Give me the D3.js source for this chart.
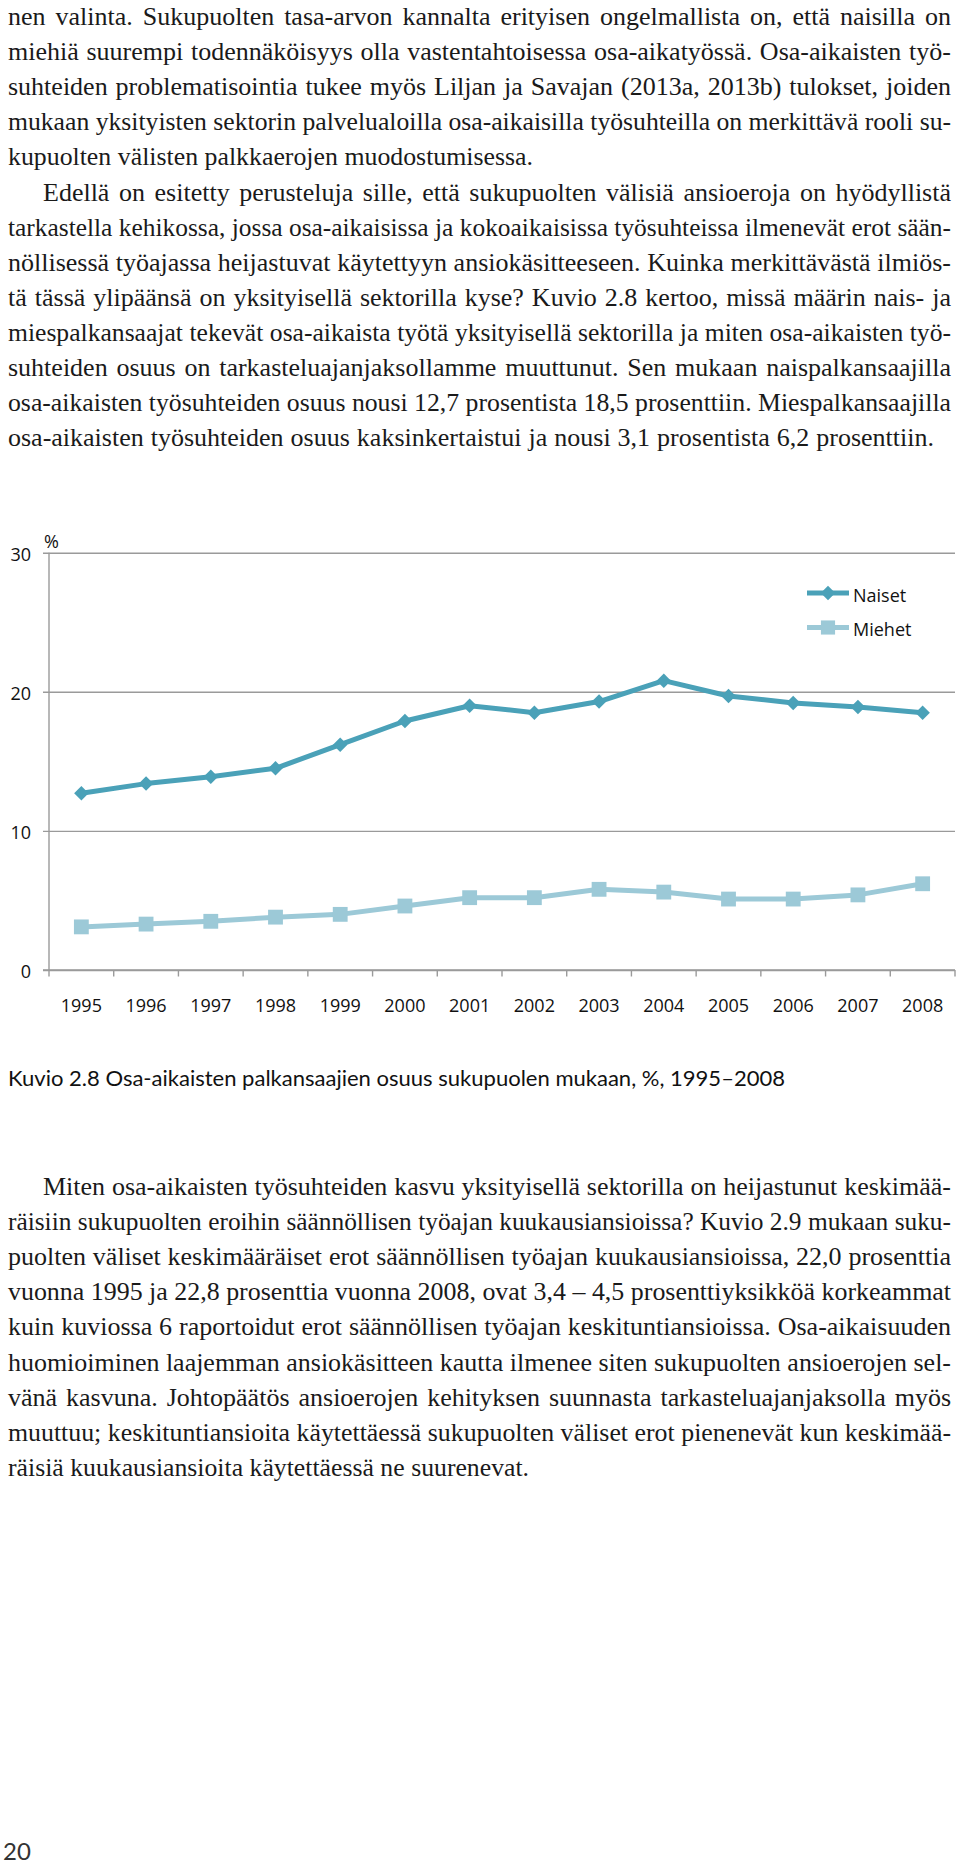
<!DOCTYPE html>
<html><head><meta charset="utf-8">
<script src="https://cdn.jsdelivr.net/npm/d3@7"></script>
<style>body{margin:0;background:#fff}svg{display:block}</style>
</head><body>
<svg id="page" width="960" height="1865"></svg>
<script>
// ---------- data ----------
const years = ["1995","1996","1997","1998","1999","2000","2001","2002","2003","2004","2005","2006","2007","2008"];
const naiset = [12.7,13.4,13.9,14.5,16.2,17.9,19.0,18.5,19.3,20.8,19.7,19.2,18.9,18.5];
const miehet = [3.1,3.3,3.5,3.8,4.0,4.6,5.2,5.2,5.8,5.6,5.1,5.1,5.4,6.2];
const yTicks = [0,10,20,30];
const seriesNames = ["Naiset","Miehet"];
const unitLabel = "%";
const caption = "Kuvio 2.8 Osa-aikaisten palkansaajien osuus sukupuolen mukaan, %, 1995–2008";
const pageNumber = "20";

const textTop = [
  ["nen valinta. Sukupuolten tasa-arvon kannalta erityisen ongelmallista on, että naisilla on", 0, 0],
  ["miehiä suurempi todennäköisyys olla vastentahtoisessa osa-aikatyössä. Osa-aikaisten työ-", 0, 0],
  ["suhteiden problematisointia tukee myös Liljan ja Savajan (2013a, 2013b) tulokset, joiden", 0, 0],
  ["mukaan yksityisten sektorin palvelualoilla osa-aikaisilla työsuhteilla on merkittävä rooli su-", 0, 0],
  ["kupuolten välisten palkkaerojen muodostumisessa.", 0, 1],
  ["Edellä on esitetty perusteluja sille, että sukupuolten välisiä ansioeroja on hyödyllistä", 1, 0],
  ["tarkastella kehikossa, jossa osa-aikaisissa ja kokoaikaisissa työsuhteissa ilmenevät erot sään-", 0, 0],
  ["nöllisessä työajassa heijastuvat käytettyyn ansiokäsitteeseen. Kuinka merkittävästä ilmiös-", 0, 0],
  ["tä tässä ylipäänsä on yksityisellä sektorilla kyse? Kuvio 2.8 kertoo, missä määrin nais- ja", 0, 0],
  ["miespalkansaajat tekevät osa-aikaista työtä yksityisellä sektorilla ja miten osa-aikaisten työ-", 0, 0],
  ["suhteiden osuus on tarkasteluajanjaksollamme muuttunut. Sen mukaan naispalkansaajilla", 0, 0],
  ["osa-aikaisten työsuhteiden osuus nousi 12,7 prosentista 18,5 prosenttiin. Miespalkansaajilla", 0, 0],
  ["osa-aikaisten työsuhteiden osuus kaksinkertaistui ja nousi 3,1 prosentista 6,2 prosenttiin.", 0, 1]
];
const textBottom = [
  ["Miten osa-aikaisten työsuhteiden kasvu yksityisellä sektorilla on heijastunut keskimää-", 1, 0],
  ["räisiin sukupuolten eroihin säännöllisen työajan kuukausiansioissa? Kuvio 2.9 mukaan suku-", 0, 0],
  ["puolten väliset keskimääräiset erot säännöllisen työajan kuukausiansioissa, 22,0 prosenttia", 0, 0],
  ["vuonna 1995 ja 22,8 prosenttia vuonna 2008, ovat 3,4 – 4,5 prosenttiyksikköä korkeammat", 0, 0],
  ["kuin kuviossa 6 raportoidut erot säännöllisen työajan keskituntiansioissa. Osa-aikaisuuden", 0, 0],
  ["huomioiminen laajemman ansiokäsitteen kautta ilmenee siten sukupuolten ansioerojen sel-", 0, 0],
  ["vänä kasvuna. Johtopäätös ansioerojen kehityksen suunnasta tarkasteluajanjaksolla myös", 0, 0],
  ["muuttuu; keskituntiansioita käytettäessä sukupuolten väliset erot pienenevät kun keskimää-", 0, 0],
  ["räisiä kuukausiansioita käytettäessä ne suurenevat.", 0, 1]
];

// ---------- layout ----------
const svg = d3.select("#page");
const serif = "'Liberation Serif', 'DejaVu Serif', serif";
const sans = "'Open Sans', 'Noto Sans', sans-serif";
const textLeft = 8, textRight = 951, indentW = 35, lineH = 35.1, bodySize = 26;
const lastLineEnds = {top: {4: 533, 12: 934}, bottom: {8: 529}};

function drawBlock(lines, firstBaseline, ends) {
  const g = svg.append("g").attr("font-family", serif).attr("fill", "#1a1a1a");
  lines.forEach(([str, indent, last], i) => {
    const x0 = textLeft + (indent ? indentW : 0);
    const yy = firstBaseline + i * lineH;
    const t = g.append("text").attr("x", x0).attr("y", yy).attr("font-size", bodySize).text(str);
    let w = t.node().getComputedTextLength();
    const T = (last ? ends[i] : textRight) - x0;
    const spaces = (str.match(/ /g) || []).length;
    if (w > T) {
      const fs = Math.floor(bodySize * T / w * 100) / 100;
      t.attr("font-size", fs);
      w = t.node().getComputedTextLength();
    }
    if (w < T && spaces > 0 && (!last || (T - w) / spaces < 6)) {
      t.attr("word-spacing", (T - w) / spaces);
    }
  });
}
drawBlock(textTop, 25, lastLineEnds.top);
drawBlock(textBottom, 1195, lastLineEnds.bottom);

// ---------- chart ----------
const plot = {left: 49, right: 955, top: 552.7, bottom: 970};
const x = d3.scaleBand().domain(years).range([plot.left, plot.right]).padding(0);
const y = d3.scaleLinear().domain([0, 30]).range([plot.bottom, plot.top]);
const cx = d => x(d) + x.bandwidth() / 2;
const axisColor = "#9a9a9a";
const cNaiset = "#4aa1b8", cMiehet = "#9cc9d7";

const chart = svg.append("g");

// gridlines + y ticks
const yAxis = d3.axisLeft(y).tickValues(yTicks).tickSize(-(plot.right - plot.left)).tickSizeOuter(0).tickPadding(0).tickFormat("");
const gy = chart.append("g").attr("transform", `translate(${plot.left},0)`).call(yAxis);
gy.select(".domain").remove();
gy.selectAll(".tick line").attr("x1", -6).attr("stroke", axisColor).attr("stroke-width", 1.4);
chart.append("line").attr("x1", plot.left).attr("x2", plot.left).attr("y1", y(30)).attr("y2", y(0))
  .attr("stroke", axisColor).attr("stroke-width", 1.4);
chart.append("g").selectAll("text").data(yTicks).join("text")
  .attr("x", 31).attr("y", d => y(d) + 8).attr("text-anchor", "end")
  .attr("font-family", sans).attr("font-size", 18).attr("fill", "#111").text(d => d);
chart.append("text").attr("x", 44).attr("y", 548).attr("font-family", sans).attr("font-size", 18)
  .attr("fill", "#111").text(unitLabel);

// x axis with category-boundary ticks
const bounds = years.map(d => x(d)).concat([plot.right]);
chart.append("line").attr("x1", plot.left - 6).attr("x2", plot.right).attr("y1", y(0)).attr("y2", y(0))
  .attr("stroke", axisColor).attr("stroke-width", 1.4);
chart.append("g").selectAll("line").data(bounds).join("line")
  .attr("x1", d => d).attr("x2", d => d).attr("y1", y(0)).attr("y2", y(0) + 6.5)
  .attr("stroke", axisColor).attr("stroke-width", 1.4);
chart.append("g").selectAll("text").data(years).join("text")
  .attr("x", d => cx(d)).attr("y", 1011.5).attr("text-anchor", "middle")
  .attr("font-family", sans).attr("font-size", 18).attr("fill", "#111").text(d => d);

// lines
const lineGen = d3.line().x((d, i) => cx(years[i])).y(d => y(d));
chart.append("path").datum(miehet).attr("d", lineGen).attr("fill", "none")
  .attr("stroke", cMiehet).attr("stroke-width", 5).attr("stroke-linejoin", "round");
chart.append("path").datum(naiset).attr("d", lineGen).attr("fill", "none")
  .attr("stroke", cNaiset).attr("stroke-width", 5).attr("stroke-linejoin", "round");

const diamond = d3.symbol().type(d3.symbolSquare).size(105);
const square = d3.symbol().type(d3.symbolSquare).size(220);
chart.append("g").selectAll("path").data(miehet).join("path")
  .attr("transform", (d, i) => `translate(${cx(years[i])},${y(d)})`)
  .attr("d", square).attr("fill", cMiehet);
chart.append("g").selectAll("path").data(naiset).join("path")
  .attr("transform", (d, i) => `translate(${cx(years[i])},${y(d)}) rotate(45)`)
  .attr("d", diamond).attr("fill", cNaiset);

// legend
const legend = chart.append("g");
const legItems = [
  {name: seriesNames[0], color: cNaiset, sym: diamond, rot: 45, yy: 593},
  {name: seriesNames[1], color: cMiehet, sym: d3.symbol().type(d3.symbolSquare).size(200), rot: 0, yy: 627.5}
];
legItems.forEach(it => {
  legend.append("line").attr("x1", 807).attr("x2", 849).attr("y1", it.yy).attr("y2", it.yy)
    .attr("stroke", it.color).attr("stroke-width", 5);
  legend.append("path").attr("d", it.sym).attr("fill", it.color)
    .attr("transform", `translate(828,${it.yy}) rotate(${it.rot})`);
  legend.append("text").attr("x", 853).attr("y", it.yy + 8.5).attr("font-family", sans)
    .attr("font-size", 18).attr("fill", "#111").text(it.name);
});

// caption
svg.append("text").attr("x", 8).attr("y", 1086).attr("font-family", "Lato, 'Open Sans', sans-serif")
  .attr("font-size", 21).attr("fill", "#111").text(caption)
  .attr("textLength", 777).attr("lengthAdjust", "spacingAndGlyphs");

// page number
svg.append("text").attr("x", 3).attr("y", 1860).attr("font-family", "Lato, 'Open Sans', sans-serif")
  .attr("font-size", 24).attr("fill", "#333").text(pageNumber);
</script>
</body></html>
